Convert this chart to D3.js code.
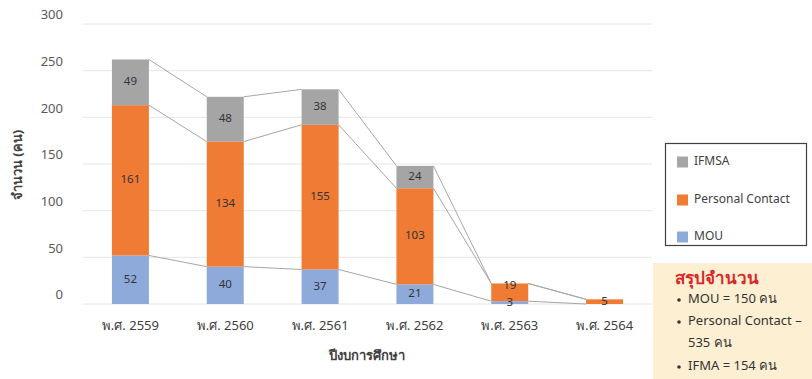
<!DOCTYPE html>
<html>
<head>
<meta charset="utf-8">
<script src="https://cdn.jsdelivr.net/npm/d3@7"></script>
<style>
  body { margin: 0; background: #fff; }
  text { font-family: "Noto Sans", sans-serif; }
</style>
</head>
<body>
<div id="chart"></div>
<script>
// DATA
const years = ["พ.ศ. 2559", "พ.ศ. 2560", "พ.ศ. 2561", "พ.ศ. 2562", "พ.ศ. 2563", "พ.ศ. 2564"];
const mou = [52, 40, 37, 21, 3, 0];
const personal = [161, 134, 155, 103, 19, 5];
const ifmsa = [49, 48, 38, 24, 0, 0];
const seriesKeys = ["MOU", "Personal Contact", "IFMSA"];
const yTicks = [0, 50, 100, 150, 200, 250, 300];
const summaryTitle = "สรุปจำนวน";
const summaryLines = [["MOU = 150 คน"], ["Personal Contact –", "535 คน"], ["IFMA = 154 คน"]];

const colors = { "MOU": "#8eaadb", "Personal Contact": "#ef7b35", "IFMSA": "#a5a5a5" };

const W = 812, H = 379;
const svg = d3.select("#chart").append("svg").attr("width", W).attr("height", H);

// scales
const x = d3.scaleBand().domain(years).range([83, 652]).paddingInner(0.61).paddingOuter(0.305);
const y = d3.scaleLinear().domain([0, 300]).range([304, 24]);

const table = years.map((yr, i) => ({ year: yr, "MOU": mou[i], "Personal Contact": personal[i], "IFMSA": ifmsa[i] }));
const stacked = d3.stack().keys(seriesKeys)(table);

// gridlines
svg.append("g").selectAll("line").data(yTicks).join("line")
  .attr("x1", 83).attr("x2", 652)
  .attr("y1", d => y(d)).attr("y2", d => y(d))
  .attr("stroke", "#e6e6e6").attr("stroke-width", 1);

// y axis labels
svg.append("g").selectAll("text").data(yTicks).join("text")
  .attr("x", 63).attr("y", d => y(d) - 8)
  .attr("text-anchor", "end").attr("dominant-baseline", "middle")
  .attr("font-size", 13).attr("fill", "#595959")
  .text(d => d);

// series lines
const bw = x.bandwidth();
stacked.forEach(s => {
  const segs = d3.pairs(s.map((d, i) => i));
  svg.append("g").selectAll("line").data(segs).join("line")
    .attr("x1", d => x(years[d[0]]) + bw).attr("y1", d => y(s[d[0]][1]))
    .attr("x2", d => x(years[d[1]])).attr("y2", d => y(s[d[1]][1]))
    .attr("stroke", "#a6a6a6").attr("stroke-width", 1);
});

// bars
stacked.forEach(s => {
  svg.append("g").attr("fill", colors[s.key]).selectAll("rect").data(s).join("rect")
    .attr("x", d => x(d.data.year)).attr("width", bw)
    .attr("y", d => y(d[1])).attr("height", d => y(d[0]) - y(d[1]));
});

// bar labels - stacked bottom to top, pushed up if they would collide
years.forEach((yr, i) => {
  let lastY = Infinity;
  stacked.forEach(s => {
    const d = s[i];
    const v = d[1] - d[0];
    if (v <= 0) return;
    let ly = Math.min(y((d[0] + d[1]) / 2), lastY - 16.5);
    lastY = ly;
    svg.append("text")
      .attr("x", x(yr) + bw / 2).attr("y", ly)
      .attr("text-anchor", "middle").attr("dominant-baseline", "middle")
      .attr("font-size", 11.5).attr("fill", "#333")
      .text(v);
  });
});

// x labels
svg.append("g").selectAll("text").data(years).join("text")
  .attr("x", d => x(d) + bw / 2).attr("y", 327)
  .attr("text-anchor", "middle").attr("dominant-baseline", "middle")
  .attr("font-size", 13).attr("fill", "#404040")
  .text(d => d);

// axis titles
svg.append("text").attr("x", 367).attr("y", 356)
  .attr("text-anchor", "middle").attr("dominant-baseline", "middle")
  .attr("font-size", 13).attr("font-weight", "bold").attr("fill", "#404040")
  .text("ปีงบการศึกษา");
svg.append("text").attr("transform", "translate(18,165) rotate(-90)")
  .attr("text-anchor", "middle").attr("dominant-baseline", "middle")
  .attr("font-size", 13).attr("font-weight", "bold").attr("fill", "#404040")
  .text("จำนวน (คน)");

// legend
const lg = svg.append("g");
lg.append("rect").attr("x", 665.5).attr("y", 143.5).attr("width", 141).attr("height", 102)
  .attr("fill", "#fff").attr("stroke", "#404040").attr("stroke-width", 1.2);
const legendKeys = ["IFMSA", "Personal Contact", "MOU"];
legendKeys.forEach((k, i) => {
  const cy = [162, 200, 237][i];
  lg.append("rect").attr("x", 677).attr("y", cy - 5.5).attr("width", 11).attr("height", 11).attr("fill", colors[k]);
  lg.append("text").attr("x", 694).attr("y", cy).attr("dominant-baseline", "middle")
    .attr("font-size", 12).attr("fill", "#404040").text(k);
});

// summary box
const sb = svg.append("g");
sb.append("rect").attr("x", 653).attr("y", 263).attr("width", 159).attr("height", 116).attr("fill", "#fdf0d2");
sb.append("text").attr("x", 675).attr("y", 279).attr("dominant-baseline", "middle")
  .attr("font-size", 17).attr("font-weight", "bold").attr("fill", "#d9262b").text(summaryTitle);
let row = 0;
const rowsY = [300, 322, 344, 367];
summaryLines.forEach(lines => {
  lines.forEach((t, j) => {
    const ty = rowsY[row];
    if (j === 0) sb.append("circle").attr("cx", 679).attr("cy", ty).attr("r", 1.8).attr("fill", "#333");
    sb.append("text").attr("x", 688).attr("y", ty).attr("dominant-baseline", "middle")
      .attr("font-size", 13).attr("fill", "#333").text(t);
    row++;
  });
});
</script>
</body>
</html>
